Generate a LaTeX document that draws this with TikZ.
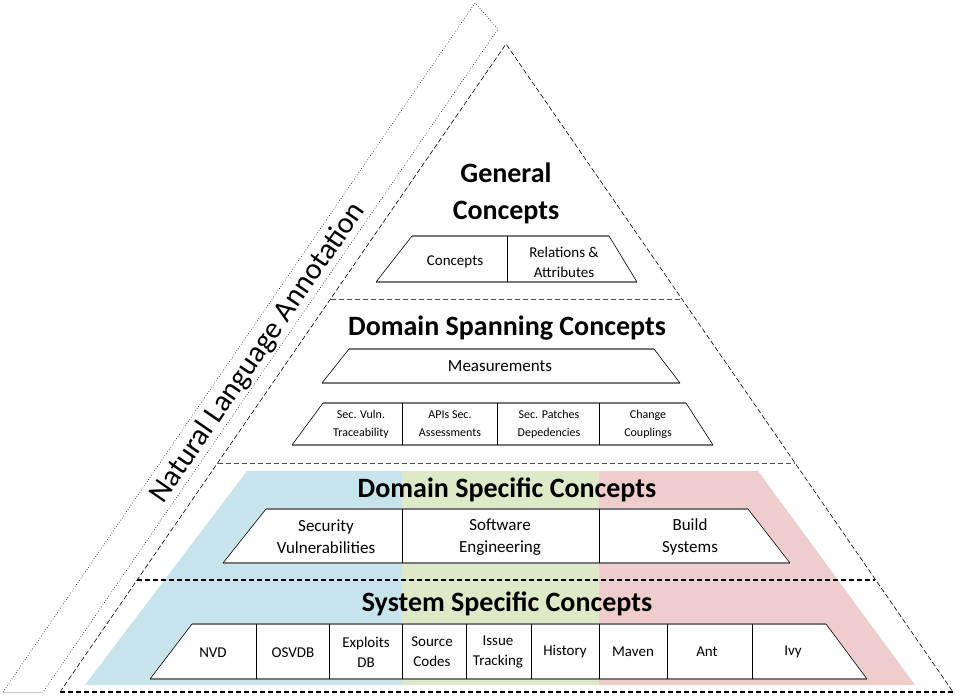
\documentclass[tikz,border=0pt]{standalone}
\usepackage{fontspec}
\setmainfont{Carlito}
\definecolor{bandblue}{RGB}{199,227,236}
\definecolor{bandgreen}{RGB}{222,233,199}
\definecolor{bandred}{RGB}{239,205,204}
\definecolor{edgegray}{RGB}{120,120,120}
\newcommand{\trapbox}[6]{%
  \fill[white] (#1,#5) -- (#2,#5) -- (#3,#6) -- (#4,#6) -- cycle;
  \draw[edgetb] (#1,#5) -- (#2,#5) (#4,#6) -- (#3,#6);
  \draw[edgeside] (#1,#5) -- (#4,#6) (#2,#5) -- (#3,#6);}
\newcommand{\divline}[3]{\draw[edgeside] (#1,#2) -- (#1,#3);}
\begin{document}
\begin{tikzpicture}[x=1pt,y=-1pt,
  edgetb/.style={draw=edgegray, line width=1.6pt},
  edgeside/.style={draw=black, line width=0.6pt},
  lvl/.style={draw=black!70, line width=1pt, dash pattern=on 5pt off 3pt},
  lvlbot/.style={draw=black, line width=1.2pt, dash pattern=on 5pt off 3pt},
  tri/.style={draw=black, line width=0.6pt, dash pattern=on 5pt off 2.5pt},
  stripline/.style={draw=black, line width=0.6pt, dotted},
  title/.style={font=\fontsize{28}{37}\selectfont\bfseries, align=center, inner sep=0pt},
  lblS/.style={font=\fontsize{15}{20}\selectfont, align=center, inner sep=0pt},
  lblM/.style={font=\fontsize{17}{22}\selectfont, align=center, inner sep=0pt},
  lblT/.style={font=\fontsize{12}{18}\selectfont, align=center, inner sep=0pt}]
\useasboundingbox (0,0) rectangle (961,698);

% colour bands
\fill[bandblue] (247,471) -- (402,471) -- (402,685) -- (85,685) -- cycle;
\fill[bandgreen] (402,471) -- (599,471) -- (599,685) -- (402,685) -- cycle;
\fill[bandred] (599,471) -- (758,471) -- (915,685) -- (599,685) -- cycle;

% annotation strip
\coordinate (sa) at (475,3);
\coordinate (sb) at (498,29);
\coordinate (sc) at (43,692);
\coordinate (sd) at (3,692);
\draw[stripline] (sd) -- (sa) -- (sb) -- (sc);
\draw[gray!40, line width=0.6pt] (sd) -- (sc);
\node[font=\fontsize{30}{30}\selectfont, rotate=55.5, inner sep=0pt] (nla) at (258,353) {Natural Language Annotation};

% main triangle
\coordinate (apex) at (506,44);
\coordinate (bl) at (60,692);
\coordinate (br) at (953,692);
\draw[tri] (bl) -- (apex) -- (br);
\draw[lvl] (330.5,299) -- (681.5,299);
\draw[lvl] (217.6,463) -- (794.4,463);
\draw[lvlbot] (137,580) -- (875,580);
\draw[lvlbot] (bl) -- (br);

% titles
\node[title] (tgen) at (506,193) {General\\Concepts};
\node[title] (tdsp) at (507,328) {Domain Spanning Concepts};
\node[title] (tdsc) at (507,490) {Domain Specific Concepts};
\node[title] (tssc) at (507,604) {System Specific Concepts};

% general box
\trapbox{412}{609}{637}{376}{236}{282}
\divline{507}{236}{282}
\node[lblS] (g1) at (455,262) {Concepts};
\node[lblS] (g2) at (564,262) {Relations \&\\Attributes};

% measurements
\trapbox{349}{654}{680}{322}{349}{383}
\node[lblM] (m1) at (500,366) {Measurements};

% spanning row
\trapbox{323}{686}{713}{292}{403}{445}
\divline{402}{403}{445}
\divline{497}{403}{445}
\divline{599}{403}{445}
\node[lblT] (s1) at (361,424) {Sec. Vuln.\\Traceability};
\node[lblT] (s2) at (450,424) {APIs Sec.\\Assessments};
\node[lblT] (s3) at (549,424) {Sec. Patches\\Depedencies};
\node[lblT] (s4) at (648,424) {Change\\Couplings};

% domain specific
\trapbox{266}{748}{790}{223}{509}{563}
\divline{402}{509}{563}
\divline{599}{509}{563}
\node[lblM] (d1) at (326,537) {Security\\Vulnerabilities};
\node[lblM] (d2) at (500,537) {Software\\Engineering};
\node[lblM] (d3) at (690,537) {Build\\Systems};

% system specific
\trapbox{192}{826}{867}{150}{624}{679}
\divline{256}{624}{679}
\divline{329}{624}{679}
\divline{402}{624}{679}
\divline{466}{624}{679}
\divline{531}{624}{679}
\divline{599}{624}{679}
\divline{667}{624}{679}
\divline{752}{624}{679}
\node[lblS] (y1) at (213,653) {NVD};
\node[lblS] (y2) at (293,653) {OSVDB};
\node[lblS] (y3) at (366,652) {Exploits\\DB};
\node[lblS] (y4) at (432,652) {Source\\Codes};
\node[lblS] (y5) at (498,652) {Issue\\Tracking};
\node[lblS] (y6) at (565,652) {History};
\node[lblS] (y7) at (633,652) {Maven};
\node[lblS] (y8) at (707,652) {Ant};
\node[lblS] (y9) at (793,652) {Ivy};
\end{tikzpicture}
\end{document}
